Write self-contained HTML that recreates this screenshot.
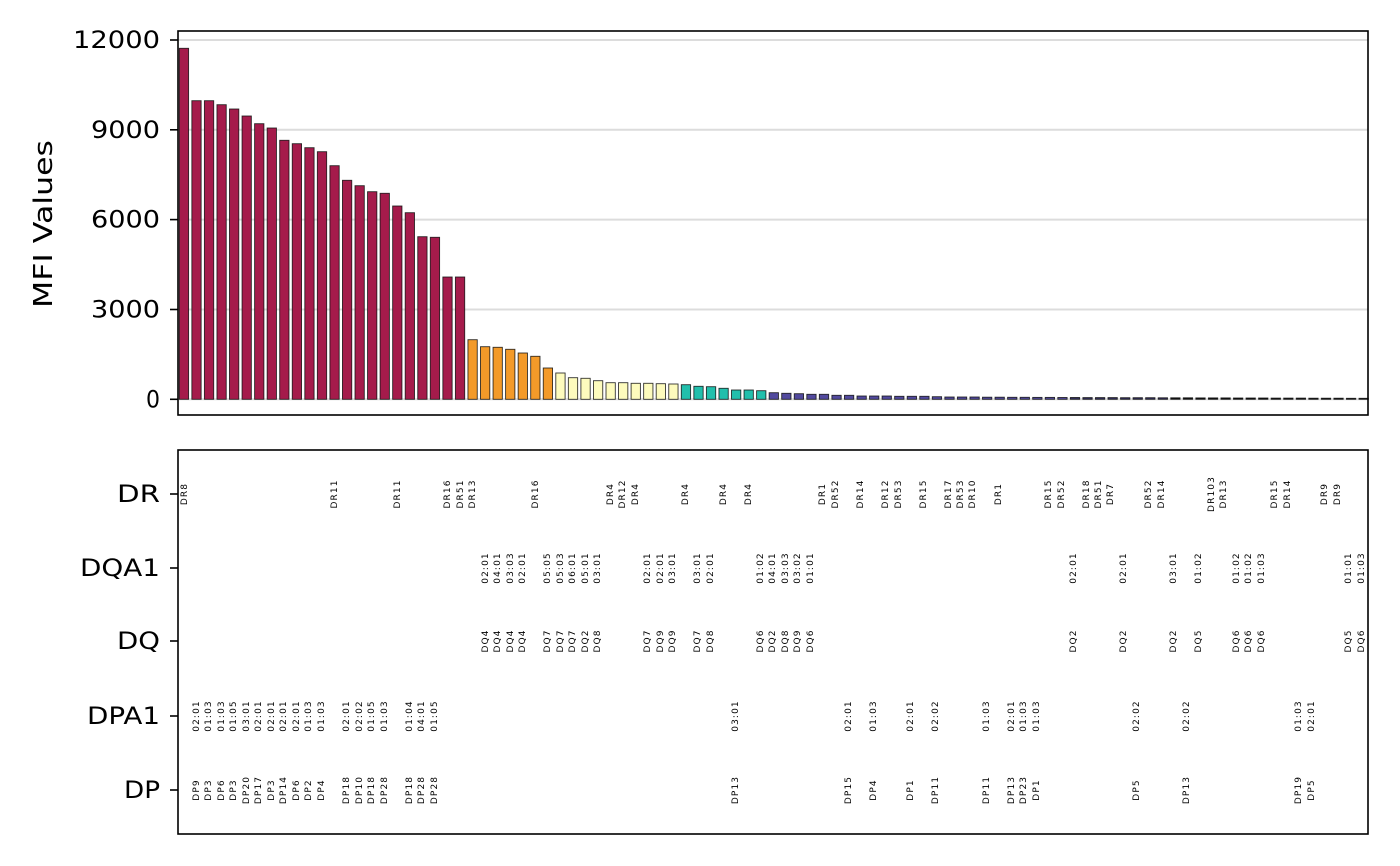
<!DOCTYPE html>
<html><head><meta charset="utf-8"><style>
html,body{margin:0;padding:0;background:#fff;}
svg{display:block;}
.t{font-family:"DejaVu Sans","Liberation Sans",sans-serif;font-size:24px;fill:#000;}
.s{font-family:"DejaVu Sans","Liberation Sans",sans-serif;font-size:9px;letter-spacing:1.1px;fill:#000;text-anchor:middle;dominant-baseline:central;}
</style></head><body>
<svg width="1400" height="866" viewBox="0 0 1400 866" xmlns="http://www.w3.org/2000/svg">
<rect width="1400" height="866" fill="#fff"/>
<g stroke="#dcdcdc" stroke-width="2">
<line x1="178" y1="40" x2="1368" y2="40"/><line x1="178" y1="129.8" x2="1368" y2="129.8"/><line x1="178" y1="219.6" x2="1368" y2="219.6"/><line x1="178" y1="309.5" x2="1368" y2="309.5"/><line x1="178" y1="399.3" x2="1368" y2="399.3"/>
</g>
<g stroke="#111" stroke-width="0.9" stroke-opacity="0.85">
<g fill="#a51b4b">
<rect x="179.3" y="48.3" width="9.3" height="351"/>
<rect x="191.85" y="100.7" width="9.3" height="298.6"/>
<rect x="204.4" y="100.7" width="9.3" height="298.6"/>
<rect x="216.95" y="104.7" width="9.3" height="294.6"/>
<rect x="229.5" y="109" width="9.3" height="290.3"/>
<rect x="242.05" y="116" width="9.3" height="283.3"/>
<rect x="254.6" y="123.7" width="9.3" height="275.6"/>
<rect x="267.15" y="128" width="9.3" height="271.3"/>
<rect x="279.7" y="140.3" width="9.3" height="259"/>
<rect x="292.25" y="143.7" width="9.3" height="255.6"/>
<rect x="304.8" y="147.7" width="9.3" height="251.6"/>
<rect x="317.35" y="151.7" width="9.3" height="247.6"/>
<rect x="329.9" y="165.7" width="9.3" height="233.6"/>
<rect x="342.45" y="180.3" width="9.3" height="219"/>
<rect x="355" y="185.7" width="9.3" height="213.6"/>
<rect x="367.55" y="191.7" width="9.3" height="207.6"/>
<rect x="380.1" y="193.3" width="9.3" height="206"/>
<rect x="392.65" y="206" width="9.3" height="193.3"/>
<rect x="405.2" y="212.7" width="9.3" height="186.6"/>
<rect x="417.75" y="236.7" width="9.3" height="162.6"/>
<rect x="430.3" y="237.3" width="9.3" height="162"/>
<rect x="442.85" y="277" width="9.3" height="122.3"/>
<rect x="455.4" y="277" width="9.3" height="122.3"/>
</g>
<g fill="#f39a29">
<rect x="467.95" y="339.7" width="9.3" height="59.6"/>
<rect x="480.5" y="346.7" width="9.3" height="52.6"/>
<rect x="493.05" y="347.3" width="9.3" height="52"/>
<rect x="505.6" y="349.3" width="9.3" height="50"/>
<rect x="518.15" y="353" width="9.3" height="46.3"/>
<rect x="530.7" y="356.3" width="9.3" height="43"/>
<rect x="543.25" y="368" width="9.3" height="31.3"/>
</g>
<g fill="#fdfbbd">
<rect x="555.8" y="373" width="9.3" height="26.3"/>
<rect x="568.35" y="377.7" width="9.3" height="21.6"/>
<rect x="580.9" y="378.3" width="9.3" height="21"/>
<rect x="593.45" y="380.7" width="9.3" height="18.6"/>
<rect x="606" y="382.7" width="9.3" height="16.6"/>
<rect x="618.55" y="382.7" width="9.3" height="16.6"/>
<rect x="631.1" y="383.3" width="9.3" height="16"/>
<rect x="643.65" y="383.3" width="9.3" height="16"/>
<rect x="656.2" y="383.7" width="9.3" height="15.6"/>
<rect x="668.75" y="384" width="9.3" height="15.3"/>
</g>
<g fill="#22bfac">
<rect x="681.3" y="384.7" width="9.3" height="14.6"/>
<rect x="693.85" y="386.3" width="9.3" height="13"/>
<rect x="706.4" y="386.7" width="9.3" height="12.6"/>
<rect x="718.95" y="388.3" width="9.3" height="11"/>
<rect x="731.5" y="390" width="9.3" height="9.3"/>
<rect x="744.05" y="390" width="9.3" height="9.3"/>
<rect x="756.6" y="390.7" width="9.3" height="8.6"/>
</g>
<g fill="#524a9e">
<rect x="769.15" y="392.7" width="9.3" height="6.6"/>
<rect x="781.7" y="393.3" width="9.3" height="6"/>
<rect x="794.25" y="393.7" width="9.3" height="5.6"/>
<rect x="806.8" y="394.3" width="9.3" height="5"/>
<rect x="819.35" y="394.3" width="9.3" height="5"/>
<rect x="831.9" y="395.3" width="9.3" height="4"/>
<rect x="844.45" y="395.3" width="9.3" height="4"/>
<rect x="857" y="396" width="9.3" height="3.3"/>
<rect x="869.55" y="396" width="9.3" height="3.3"/>
<rect x="882.1" y="396" width="9.3" height="3.3"/>
<rect x="894.65" y="396.3" width="9.3" height="3"/>
<rect x="907.2" y="396.3" width="9.3" height="3"/>
<rect x="919.75" y="396.3" width="9.3" height="3"/>
<rect x="932.3" y="396.7" width="9.3" height="2.6"/>
<rect x="944.85" y="397" width="9.3" height="2.3"/>
<rect x="957.4" y="397" width="9.3" height="2.3"/>
<rect x="969.95" y="397" width="9.3" height="2.3"/>
<rect x="982.5" y="397.2" width="9.3" height="2.1"/>
<rect x="995.05" y="397.2" width="9.3" height="2.1"/>
<rect x="1007.6" y="397.3" width="9.3" height="2"/>
<rect x="1020.15" y="397.3" width="9.3" height="2"/>
<rect x="1032.7" y="397.4" width="9.3" height="1.9"/>
<rect x="1045.25" y="397.4" width="9.3" height="1.9"/>
<rect x="1057.8" y="397.5" width="9.3" height="1.8"/>
</g>
<g fill="#343060">
<rect x="1070.35" y="397.5" width="9.3" height="1.8"/>
<rect x="1082.9" y="397.6" width="9.3" height="1.7"/>
<rect x="1095.45" y="397.6" width="9.3" height="1.7"/>
<rect x="1108" y="397.6" width="9.3" height="1.7"/>
<rect x="1120.55" y="397.7" width="9.3" height="1.6"/>
<rect x="1133.1" y="397.7" width="9.3" height="1.6"/>
<rect x="1145.65" y="397.7" width="9.3" height="1.6"/>
<rect x="1158.2" y="397.8" width="9.3" height="1.5"/>
</g>
<g fill="#111">
<rect x="1170.75" y="397.8" width="9.3" height="1.5"/>
<rect x="1183.3" y="397.8" width="9.3" height="1.5"/>
<rect x="1195.85" y="397.9" width="9.3" height="1.4"/>
<rect x="1208.4" y="397.9" width="9.3" height="1.4"/>
<rect x="1220.95" y="397.9" width="9.3" height="1.4"/>
<rect x="1233.5" y="398" width="9.3" height="1.3"/>
<rect x="1246.05" y="398" width="9.3" height="1.3"/>
<rect x="1258.6" y="398" width="9.3" height="1.3"/>
<rect x="1271.15" y="398.1" width="9.3" height="1.2"/>
<rect x="1283.7" y="398.1" width="9.3" height="1.2"/>
<rect x="1296.25" y="398.1" width="9.3" height="1.2"/>
<rect x="1308.8" y="398.2" width="9.3" height="1.1"/>
<rect x="1321.35" y="398.2" width="9.3" height="1.1"/>
<rect x="1333.9" y="398.2" width="9.3" height="1.1"/>
<rect x="1346.45" y="398.3" width="9.3" height="1"/>
<rect x="1359" y="398.3" width="9.3" height="1"/>
</g>
</g>
<rect x="178" y="31" width="1190" height="384" fill="none" stroke="#000" stroke-width="1.6"/>
<rect x="178" y="450" width="1190" height="384" fill="none" stroke="#000" stroke-width="1.6"/>
<g stroke="#000" stroke-width="1.6">
<line x1="170" y1="40" x2="178" y2="40"/><line x1="170" y1="129.8" x2="178" y2="129.8"/><line x1="170" y1="219.6" x2="178" y2="219.6"/><line x1="170" y1="309.5" x2="178" y2="309.5"/><line x1="170" y1="399.3" x2="178" y2="399.3"/>
<line x1="170" y1="494" x2="178" y2="494"/><line x1="170" y1="568" x2="178" y2="568"/><line x1="170" y1="641" x2="178" y2="641"/><line x1="170" y1="716" x2="178" y2="716"/><line x1="170" y1="790" x2="178" y2="790"/>
</g>
<g class="t" dominant-baseline="central">
<text x="73" y="40" textLength="87" lengthAdjust="spacingAndGlyphs">12000</text>
<text x="91" y="129.8" textLength="69" lengthAdjust="spacingAndGlyphs">9000</text>
<text x="91" y="219.6" textLength="69" lengthAdjust="spacingAndGlyphs">6000</text>
<text x="91" y="309.5" textLength="69" lengthAdjust="spacingAndGlyphs">3000</text>
<text x="146" y="399.3" textLength="14" lengthAdjust="spacingAndGlyphs">0</text>
<text x="117" y="494" textLength="43" lengthAdjust="spacingAndGlyphs">DR</text>
<text x="80" y="568" textLength="80" lengthAdjust="spacingAndGlyphs">DQA1</text>
<text x="117" y="641" textLength="43" lengthAdjust="spacingAndGlyphs">DQ</text>
<text x="87" y="716" textLength="73" lengthAdjust="spacingAndGlyphs">DPA1</text>
<text x="124" y="790" textLength="36" lengthAdjust="spacingAndGlyphs">DP</text>
</g>
<text class="t" x="-308" y="44" dominant-baseline="central" transform="rotate(-90)" textLength="168" lengthAdjust="spacingAndGlyphs" style="font-size:26px">MFI Values</text>
<g class="s">
<text transform="translate(185,494) rotate(-90)">DR8</text>
<text transform="translate(335,494) rotate(-90)">DR11</text>
<text transform="translate(398,494) rotate(-90)">DR11</text>
<text transform="translate(448,494) rotate(-90)">DR16</text>
<text transform="translate(461,494) rotate(-90)">DR51</text>
<text transform="translate(473,494) rotate(-90)">DR13</text>
<text transform="translate(536,494) rotate(-90)">DR16</text>
<text transform="translate(611,494) rotate(-90)">DR4</text>
<text transform="translate(623,494) rotate(-90)">DR12</text>
<text transform="translate(636,494) rotate(-90)">DR4</text>
<text transform="translate(686,494) rotate(-90)">DR4</text>
<text transform="translate(724,494) rotate(-90)">DR4</text>
<text transform="translate(749,494) rotate(-90)">DR4</text>
<text transform="translate(823,494) rotate(-90)">DR1</text>
<text transform="translate(836,494) rotate(-90)">DR52</text>
<text transform="translate(861,494) rotate(-90)">DR14</text>
<text transform="translate(886,494) rotate(-90)">DR12</text>
<text transform="translate(899,494) rotate(-90)">DR53</text>
<text transform="translate(924,494) rotate(-90)">DR15</text>
<text transform="translate(949,494) rotate(-90)">DR17</text>
<text transform="translate(961,494) rotate(-90)">DR53</text>
<text transform="translate(973,494) rotate(-90)">DR10</text>
<text transform="translate(999,494) rotate(-90)">DR1</text>
<text transform="translate(1049,494) rotate(-90)">DR15</text>
<text transform="translate(1062,494) rotate(-90)">DR52</text>
<text transform="translate(1087,494) rotate(-90)">DR18</text>
<text transform="translate(1099,494) rotate(-90)">DR51</text>
<text transform="translate(1111,494) rotate(-90)">DR7</text>
<text transform="translate(1149,494) rotate(-90)">DR52</text>
<text transform="translate(1162,494) rotate(-90)">DR14</text>
<text transform="translate(1212,494) rotate(-90)">DR103</text>
<text transform="translate(1224,494) rotate(-90)">DR13</text>
<text transform="translate(1275,494) rotate(-90)">DR15</text>
<text transform="translate(1288,494) rotate(-90)">DR14</text>
<text transform="translate(1325,494) rotate(-90)">DR9</text>
<text transform="translate(1338,494) rotate(-90)">DR9</text>
</g>
<g class="s">
<text transform="translate(486,568) rotate(-90)">02:01</text>
<text transform="translate(498,568) rotate(-90)">04:01</text>
<text transform="translate(511,568) rotate(-90)">03:03</text>
<text transform="translate(523,568) rotate(-90)">02:01</text>
<text transform="translate(548,568) rotate(-90)">05:05</text>
<text transform="translate(561,568) rotate(-90)">05:03</text>
<text transform="translate(573,568) rotate(-90)">06:01</text>
<text transform="translate(586,568) rotate(-90)">05:01</text>
<text transform="translate(598,568) rotate(-90)">03:01</text>
<text transform="translate(648,568) rotate(-90)">02:01</text>
<text transform="translate(661,568) rotate(-90)">02:01</text>
<text transform="translate(673,568) rotate(-90)">03:01</text>
<text transform="translate(698,568) rotate(-90)">03:01</text>
<text transform="translate(711,568) rotate(-90)">02:01</text>
<text transform="translate(761,568) rotate(-90)">01:02</text>
<text transform="translate(773,568) rotate(-90)">04:01</text>
<text transform="translate(786,568) rotate(-90)">03:03</text>
<text transform="translate(798,568) rotate(-90)">03:02</text>
<text transform="translate(811,568) rotate(-90)">01:01</text>
<text transform="translate(1074,568) rotate(-90)">02:01</text>
<text transform="translate(1124,568) rotate(-90)">02:01</text>
<text transform="translate(1174,568) rotate(-90)">03:01</text>
<text transform="translate(1199,568) rotate(-90)">01:02</text>
<text transform="translate(1237,568) rotate(-90)">01:02</text>
<text transform="translate(1249,568) rotate(-90)">01:02</text>
<text transform="translate(1262,568) rotate(-90)">01:03</text>
<text transform="translate(1349,568) rotate(-90)">01:01</text>
<text transform="translate(1362,568) rotate(-90)">01:03</text>
</g>
<g class="s">
<text transform="translate(486,641) rotate(-90)">DQ4</text>
<text transform="translate(498,641) rotate(-90)">DQ4</text>
<text transform="translate(511,641) rotate(-90)">DQ4</text>
<text transform="translate(523,641) rotate(-90)">DQ4</text>
<text transform="translate(548,641) rotate(-90)">DQ7</text>
<text transform="translate(561,641) rotate(-90)">DQ7</text>
<text transform="translate(573,641) rotate(-90)">DQ7</text>
<text transform="translate(586,641) rotate(-90)">DQ2</text>
<text transform="translate(598,641) rotate(-90)">DQ8</text>
<text transform="translate(648,641) rotate(-90)">DQ7</text>
<text transform="translate(661,641) rotate(-90)">DQ9</text>
<text transform="translate(673,641) rotate(-90)">DQ9</text>
<text transform="translate(698,641) rotate(-90)">DQ7</text>
<text transform="translate(711,641) rotate(-90)">DQ8</text>
<text transform="translate(761,641) rotate(-90)">DQ6</text>
<text transform="translate(773,641) rotate(-90)">DQ2</text>
<text transform="translate(786,641) rotate(-90)">DQ8</text>
<text transform="translate(798,641) rotate(-90)">DQ9</text>
<text transform="translate(811,641) rotate(-90)">DQ6</text>
<text transform="translate(1074,641) rotate(-90)">DQ2</text>
<text transform="translate(1124,641) rotate(-90)">DQ2</text>
<text transform="translate(1174,641) rotate(-90)">DQ2</text>
<text transform="translate(1199,641) rotate(-90)">DQ5</text>
<text transform="translate(1237,641) rotate(-90)">DQ6</text>
<text transform="translate(1249,641) rotate(-90)">DQ6</text>
<text transform="translate(1262,641) rotate(-90)">DQ6</text>
<text transform="translate(1349,641) rotate(-90)">DQ5</text>
<text transform="translate(1362,641) rotate(-90)">DQ6</text>
</g>
<g class="s">
<text transform="translate(197,716) rotate(-90)">02:01</text>
<text transform="translate(209,716) rotate(-90)">01:03</text>
<text transform="translate(222,716) rotate(-90)">01:03</text>
<text transform="translate(234,716) rotate(-90)">01:05</text>
<text transform="translate(247,716) rotate(-90)">03:01</text>
<text transform="translate(259,716) rotate(-90)">02:01</text>
<text transform="translate(272,716) rotate(-90)">02:01</text>
<text transform="translate(284,716) rotate(-90)">02:01</text>
<text transform="translate(297,716) rotate(-90)">02:01</text>
<text transform="translate(309,716) rotate(-90)">01:03</text>
<text transform="translate(322,716) rotate(-90)">01:03</text>
<text transform="translate(347,716) rotate(-90)">02:01</text>
<text transform="translate(360,716) rotate(-90)">02:02</text>
<text transform="translate(372,716) rotate(-90)">01:05</text>
<text transform="translate(385,716) rotate(-90)">01:03</text>
<text transform="translate(410,716) rotate(-90)">01:04</text>
<text transform="translate(422,716) rotate(-90)">04:01</text>
<text transform="translate(435,716) rotate(-90)">01:05</text>
<text transform="translate(736,716) rotate(-90)">03:01</text>
<text transform="translate(849,716) rotate(-90)">02:01</text>
<text transform="translate(874,716) rotate(-90)">01:03</text>
<text transform="translate(911,716) rotate(-90)">02:01</text>
<text transform="translate(936,716) rotate(-90)">02:02</text>
<text transform="translate(987,716) rotate(-90)">01:03</text>
<text transform="translate(1012,716) rotate(-90)">02:01</text>
<text transform="translate(1024,716) rotate(-90)">01:03</text>
<text transform="translate(1037,716) rotate(-90)">01:03</text>
<text transform="translate(1137,716) rotate(-90)">02:02</text>
<text transform="translate(1187,716) rotate(-90)">02:02</text>
<text transform="translate(1299,716) rotate(-90)">01:03</text>
<text transform="translate(1312,716) rotate(-90)">02:01</text>
</g>
<g class="s">
<text transform="translate(197,790) rotate(-90)">DP9</text>
<text transform="translate(209,790) rotate(-90)">DP3</text>
<text transform="translate(222,790) rotate(-90)">DP6</text>
<text transform="translate(234,790) rotate(-90)">DP3</text>
<text transform="translate(247,790) rotate(-90)">DP20</text>
<text transform="translate(259,790) rotate(-90)">DP17</text>
<text transform="translate(272,790) rotate(-90)">DP3</text>
<text transform="translate(284,790) rotate(-90)">DP14</text>
<text transform="translate(297,790) rotate(-90)">DP6</text>
<text transform="translate(309,790) rotate(-90)">DP2</text>
<text transform="translate(322,790) rotate(-90)">DP4</text>
<text transform="translate(347,790) rotate(-90)">DP18</text>
<text transform="translate(360,790) rotate(-90)">DP10</text>
<text transform="translate(372,790) rotate(-90)">DP18</text>
<text transform="translate(385,790) rotate(-90)">DP28</text>
<text transform="translate(410,790) rotate(-90)">DP18</text>
<text transform="translate(422,790) rotate(-90)">DP28</text>
<text transform="translate(435,790) rotate(-90)">DP28</text>
<text transform="translate(736,790) rotate(-90)">DP13</text>
<text transform="translate(849,790) rotate(-90)">DP15</text>
<text transform="translate(874,790) rotate(-90)">DP4</text>
<text transform="translate(911,790) rotate(-90)">DP1</text>
<text transform="translate(936,790) rotate(-90)">DP11</text>
<text transform="translate(987,790) rotate(-90)">DP11</text>
<text transform="translate(1012,790) rotate(-90)">DP13</text>
<text transform="translate(1024,790) rotate(-90)">DP23</text>
<text transform="translate(1037,790) rotate(-90)">DP1</text>
<text transform="translate(1137,790) rotate(-90)">DP5</text>
<text transform="translate(1187,790) rotate(-90)">DP13</text>
<text transform="translate(1299,790) rotate(-90)">DP19</text>
<text transform="translate(1312,790) rotate(-90)">DP5</text>
</g>
</svg>
</body></html>
